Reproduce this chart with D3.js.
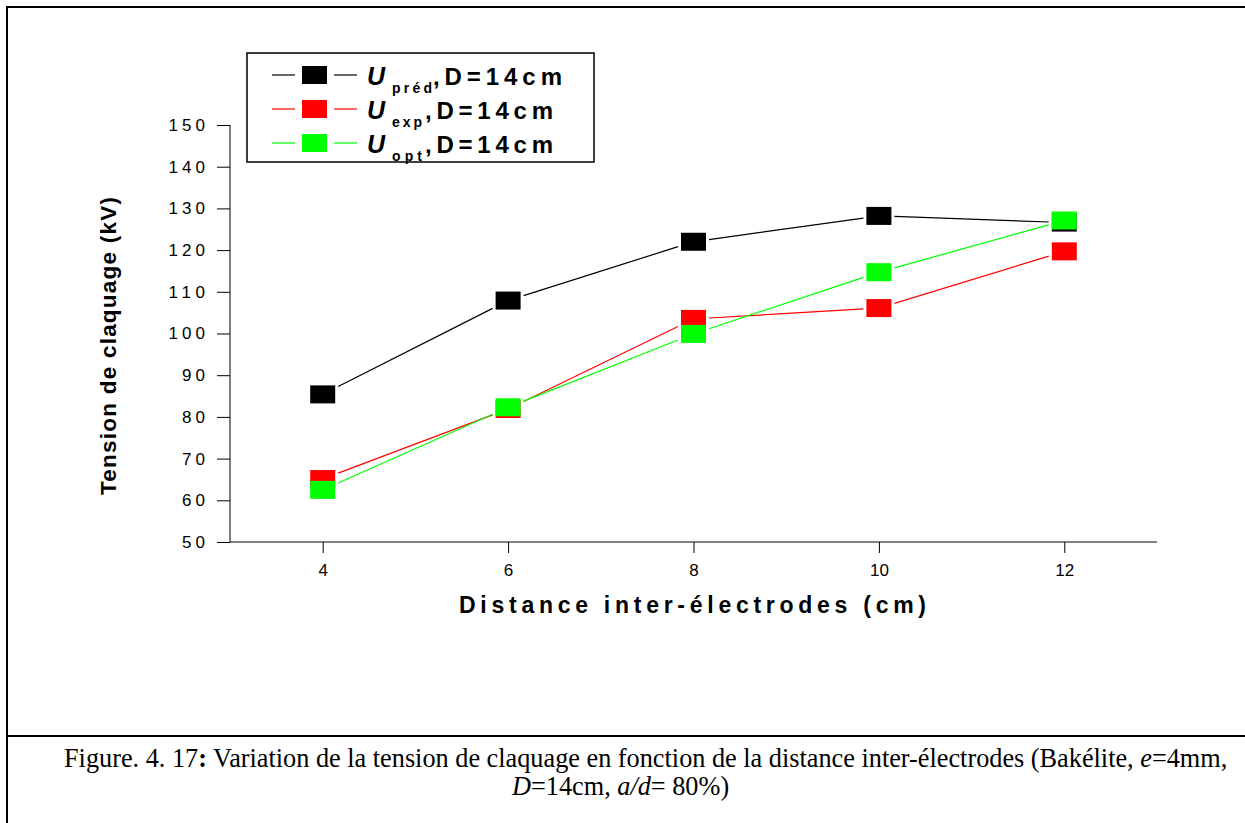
<!DOCTYPE html>
<html><head><meta charset="utf-8">
<script src="https://cdn.jsdelivr.net/npm/d3@7"></script>
<style>
html,body{margin:0;padding:0;background:#fff;}
svg{display:block;}
</style></head>
<body>
<svg id="c" width="1245" height="823"></svg>
<script>
// ---- data ----
const distances = [4, 6, 8, 10, 12];
const uPred = [85.4, 107.9, 122.0, 128.2, 126.6];
const uExp  = [65.1, 81.9, 103.5, 106.1, 119.7];
const uOpt  = [62.5, 82.3, 99.9, 114.7, 127.1];
const seriesNames = ["préd", "exp", "opt"];
const seriesColors = ["#000000", "#ff0000", "#00ff00"];
const xMajorTicks = [4, 6, 8, 10, 12];
const xMinorTicks = [3, 5, 7, 9, 11, 13];
const yMajorTicks = [50, 60, 70, 80, 90, 100, 110, 120, 130, 140, 150];
const yMinorTicks = [55, 65, 75, 85, 95, 105, 115, 125, 135, 145];

const sans = "Liberation Sans, Arial, sans-serif";
const serif = "Liberation Serif, Times New Roman, serif";
const svg = d3.select("#c").style("font-family", sans);
const x = d3.scaleLinear().domain([3, 13]).range([230, 1157]);
const y = d3.scaleLinear().domain([50, 150]).range([542, 125]);

// frame
svg.append("line").attr("x1",7).attr("x2",1245).attr("y1",7).attr("y2",7).attr("stroke","#000").attr("stroke-width",2);
svg.append("line").attr("x1",7).attr("x2",7).attr("y1",6).attr("y2",823).attr("stroke","#000").attr("stroke-width",2);
svg.append("line").attr("x1",7).attr("x2",1245).attr("y1",736).attr("y2",736).attr("stroke","#000").attr("stroke-width",2);

// axes
const gx = svg.append("g").attr("transform","translate(0,542)");
gx.call(d3.axisBottom(x).tickValues(xMinorTicks).tickSize(6).tickFormat(""));
gx.call(d3.axisBottom(x).tickValues(xMajorTicks).tickSize(11).tickSizeOuter(0).tickPadding(11).tickFormat(d3.format("d")));
gx.selectAll("path.domain").attr("stroke","#000").attr("d","M230,0H1157");
gx.selectAll("text").attr("fill","#000").style("font-size","17px").style("font-family",sans);

const gy = svg.append("g").attr("transform","translate(230,0)");
gy.call(d3.axisLeft(y).tickValues(yMinorTicks).tickSize(7).tickFormat(""));
gy.call(d3.axisLeft(y).tickValues(yMajorTicks).tickSize(13).tickSizeOuter(0).tickPadding(12).tickFormat(d3.format("d")));
gy.selectAll("path.domain").attr("stroke","#000").attr("d","M0,125V542");
gy.selectAll("text").attr("fill","#000").style("font-size","17px").style("font-family",sans)
  .attr("x",-25).attr("textLength",function(d){return String(d).length*13.5-4;}).attr("lengthAdjust","spacing");

// axis titles
svg.append("text").attr("x",459).attr("y",613).style("font-size","23px").style("font-weight","bold")
  .attr("textLength",467).attr("lengthAdjust","spacing").text("Distance inter-électrodes (cm)");
svg.append("text").attr("transform","translate(116,346) rotate(-90)").attr("text-anchor","middle")
  .style("font-size","22.5px").style("font-weight","bold")
  .attr("textLength",298).attr("lengthAdjust","spacing").text("Tension de claquage (kV)");

// series
const allSeries = [uPred, uExp, uOpt];
const hw = 12.5, hh = 9, gap = 3;
function shorten(p0, p1) {
  const dx = p1[0]-p0[0], dy = p1[1]-p0[1];
  const L = Math.hypot(dx, dy), ux = dx/L, uy = dy/L;
  const s = Math.min((hw+gap)/Math.max(Math.abs(ux),1e-9), (hh+gap)/Math.max(Math.abs(uy),1e-9));
  return [[p0[0]+ux*s, p0[1]+uy*s], [p1[0]-ux*s, p1[1]-uy*s]];
}
allSeries.forEach((vals, si) => {
  const pts = distances.map((d,i)=>[x(d), y(vals[i])]);
  const g = svg.append("g");
  for (let i=0;i<pts.length-1;i++){
    const [a,b] = shorten(pts[i], pts[i+1]);
    g.append("line").attr("x1",a[0]).attr("y1",a[1]).attr("x2",b[0]).attr("y2",b[1])
      .attr("stroke",seriesColors[si]).attr("stroke-width",1.2);
  }
  g.selectAll("rect").data(pts).join("rect")
    .attr("x",d=>d[0]-hw).attr("y",d=>d[1]-hh).attr("width",hw*2).attr("height",hh*2)
    .attr("fill",seriesColors[si]);
});

// legend
const lg = svg.append("g");
lg.append("rect").attr("x",247).attr("y",53).attr("width",347).attr("height",109)
  .attr("fill","#fff").attr("stroke","#000").attr("stroke-width",1.5);
const rowY = [75, 109, 143];
const subLen = [40, 30, 30];
const commaX = [433, 425, 425];
const restLen = [129, 128, 128];
seriesNames.forEach((nm, i) => {
  const cy = rowY[i];
  lg.append("line").attr("x1",272).attr("x2",295).attr("y1",cy).attr("y2",cy).attr("stroke",seriesColors[i]).attr("stroke-width",1.2);
  lg.append("line").attr("x1",334).attr("x2",357).attr("y1",cy).attr("y2",cy).attr("stroke",seriesColors[i]).attr("stroke-width",1.2);
  lg.append("rect").attr("x",302).attr("y",cy-9).attr("width",25).attr("height",18).attr("fill",seriesColors[i]);
  lg.append("text").attr("x",367).attr("y",cy+10).style("font-size","25px").style("font-weight","bold").style("font-style","italic").text("U");
  lg.append("text").attr("x",392).attr("y",cy+18).style("font-size","14px").style("font-weight","bold")
    .attr("textLength",subLen[i]).attr("lengthAdjust","spacing").text(nm);
  lg.append("text").attr("x",commaX[i]).attr("y",cy+10).style("font-size","24px").style("font-weight","bold")
    .attr("textLength",restLen[i]).attr("lengthAdjust","spacing").text(",D=14cm");
});

// caption
const c1 = svg.append("text").attr("x",64).attr("y",767).style("font-family",serif).style("font-size","20px");
c1.append("tspan").text("Figure. 4. 17");
c1.append("tspan").style("font-weight","bold").text(":");
c1.append("tspan").text(" Variation de la tension de claquage en fonction de la distance inter-électrodes (Bakélite, ");
c1.append("tspan").style("font-style","italic").text("e");
c1.append("tspan").text("=4mm,");
const c2 = svg.append("text").attr("x",512).attr("y",795).style("font-family",serif).style("font-size","20px");
c2.append("tspan").style("font-style","italic").text("D");
c2.append("tspan").text("=14cm, ");
c2.append("tspan").style("font-style","italic").text("a/d");
c2.append("tspan").text("= 80%)");
const w1 = c1.node().getComputedTextLength();
const fs = 20 * 1164 / w1;
c1.style("font-size", fs + "px");
c2.style("font-size", fs + "px");
</script>
</body></html>
